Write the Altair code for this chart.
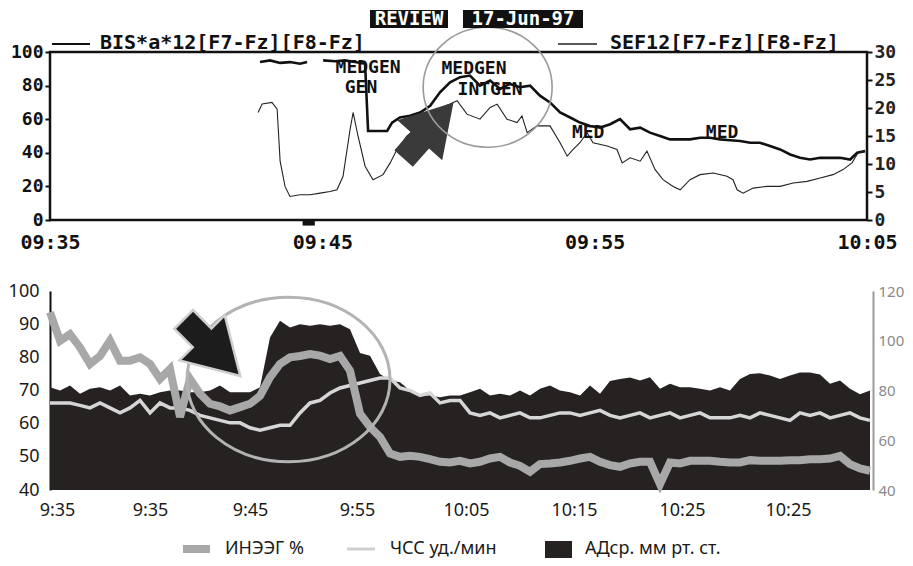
import altair as alt
import pandas as pd

# ================= top panel: monitor screen =================
top_title = ["REVIEW", "17-Jun-97"]
top_series = ["BIS*a*12[F7-Fz][F8-Fz]", "SEF12[F7-Fz][F8-Fz]"]
top_tick_min = [0, 10, 20, 30]            # minutes after 09:35
top_tick_lab = ["09:35", "09:45", "09:55", "10:05"]

bis_min = [7.71, 8.08, 8.45, 8.81, 9.18, 9.44,
           10.03, 10.47, 10.83, 11.20, 11.57, 11.68, 12.05, 12.38, 12.56, 12.85,
           13.22, 13.59, 13.96, 14.32, 14.69, 15.06, 15.42, 15.79, 16.16, 16.53,
           16.89, 17.26, 17.63, 17.99, 18.36, 18.73, 19.10, 19.46, 19.83, 20.20,
           20.57, 20.93, 21.30, 21.67, 22.03, 22.40, 22.77, 23.14, 23.50, 23.87,
           24.24, 24.61, 24.97, 25.34, 25.71, 26.07, 26.44, 26.81, 27.18, 27.54,
           27.91, 28.28, 28.64, 29.01, 29.38, 29.64, 29.93]
bis_val = [94, 95, 93.5, 94, 93, 94,
           95, 94.5, 95, 94, 93, 53, 53, 53, 58, 61,
           62, 64, 68, 76, 82, 85, 86, 80, 83, 78,
           81, 79, 80, 74, 70, 64, 61, 58, 56, 55,
           57, 60, 54, 55, 52, 50, 48, 48, 48, 49,
           49, 48, 47.5, 47, 46, 46, 44, 42, 39, 37,
           36, 37, 37, 37, 36, 40, 41]

sef_min = [7.64, 7.79, 8.15, 8.34, 8.45, 8.63, 8.81, 9.18, 9.55, 9.92,
           10.28, 10.54, 10.76, 11.02, 11.13, 11.31, 11.57, 11.86, 12.23, 12.49,
           12.74, 13.11, 13.48, 13.70, 14.21, 14.69, 14.95, 15.31, 15.79, 16.16,
           16.42, 16.78, 17.15, 17.33, 17.52, 17.88, 18.36, 18.73, 18.99, 19.21,
           19.46, 19.72, 19.94, 20.46, 20.82, 21.01, 21.30, 21.67, 21.92, 22.22,
           22.51, 22.88, 23.14, 23.50, 23.87, 24.35, 24.86, 25.08, 25.23, 25.45,
           25.82, 26.33, 26.81, 27.29, 27.80, 28.28, 28.75, 29.12, 29.45, 29.67,
           29.93]
sef_hz = [19.2, 20.7, 21.0, 19.8, 10.5, 6.0, 4.2, 4.5, 4.5, 4.8,
          5.1, 5.4, 7.8, 16.2, 19.2, 15.0, 9.6, 7.2, 8.1, 10.2,
          12.6, 15.0, 16.5, 17.7, 19.8, 20.7, 21.3, 18.9, 18.0, 20.1,
          20.7, 18.0, 17.4, 18.6, 15.6, 16.8, 16.8, 13.8, 11.4, 12.6,
          13.8, 15.6, 13.8, 13.2, 12.6, 10.2, 11.1, 10.5, 12.3, 9.0,
          7.2, 6.0, 5.4, 7.2, 8.1, 8.4, 7.8, 7.2, 5.4, 4.8,
          5.7, 6.0, 6.0, 6.6, 6.9, 7.5, 8.1, 9.0, 10.2, 12.0,
          12.3]

event_lab = ["MEDGEN", "GEN", "MEDGEN", "INTGEN", "MED", "MED"]
event_min = [11.68, 11.42, 15.57, 16.16, 19.76, 24.68]
event_val = [90.4, 78.4, 89.8, 77.6, 51.5, 51.5]

top_marker_min = [9.5]
top_circle = {"t": [16.07], "v": [79]}
top_arrow = {"t": [13.9], "v": [53.3]}

# ================= bottom panel =================
bot_tick_pos = [0.7, 10, 20, 30.7, 41.6, 52.4, 63.2, 73.8]   # sample index
bot_tick_lab = ["9:35", "9:35", "9:45", "9:55", "10:05", "10:15", "10:25", "10:25"]
bot_series = ["ИНЭЭГ %", "ЧСС уд./мин", "АДср. мм рт. ст."]

eeg = [93.6, 85, 87, 83, 78, 80.4, 85, 79, 79, 80,
       78, 73.5, 76.5, 62, 73.5, 69, 66, 65.2, 64, 65,
       66, 68.4, 74, 78, 80, 80.4, 81, 80.5, 79.5, 80.4,
       76, 63, 59, 56, 51, 50, 50.3, 50, 49.3, 48.5,
       48.3, 48.8, 48, 48.5, 49.5, 50, 48.3, 47.3, 45.5, 47.8,
       48, 48.3, 48.8, 49.5, 50, 48.5, 47.5, 47, 48, 48.5,
       48.5, 41.8, 48.3, 48, 48.8, 48.8, 48.8, 48.5, 48.3, 48.3,
       49, 48.8, 48.8, 48.8, 49, 49, 49.3, 49.3, 49.5, 50.3,
       47.8, 46.5, 45.8]
hr = [75, 75, 75, 74, 73, 75, 73, 71, 73, 76,
      71, 75, 73, 73, 72, 70, 69, 68, 67, 67,
      65, 64, 65, 66, 66, 71, 75, 76, 79, 81,
      82, 83, 84, 85, 85, 81, 80, 78, 79, 75,
      76, 76, 71, 70, 71, 69, 70, 71, 69, 69,
      70, 71, 71, 70, 71, 72, 70, 69, 70, 71,
      69, 70, 71, 69, 70, 71, 69, 69, 69, 70,
      69, 71, 70, 69, 68, 71, 70, 71, 69, 70,
      71, 69, 68]
map_ = [71, 70, 71.5, 69, 70.5, 71, 70, 71.5, 68.5, 69,
        68.5, 69.5, 70, 70, 69.5, 69.5, 70, 71.5, 69.5, 69.5,
        69.5, 71, 86, 91, 89, 90, 89.5, 90, 89.5, 90,
        88.5, 81.3, 80.5, 75, 73, 72.5, 70, 68.5, 68.5, 68,
        68.5, 68.5, 69.5, 70.5, 68.5, 69, 68.5, 70, 68.5, 70.5,
        71.5, 70, 69.5, 68.5, 71.5, 69, 72.9, 73.5, 73.9, 73,
        74, 70.5, 72, 71, 71, 70.5, 70, 71, 70, 73.5,
        75, 75.2, 74.5, 73.5, 74.5, 75.4, 75.4, 74.8, 72, 73,
        70.5, 68.9, 70]

bot_ellipse = {"i": [23.85], "v": [73.3]}
bot_arrow = {"i": [16.2], "v": [82.9]}

# ================= helpers =================
MONO = "DejaVu Sans Mono"
SANS = "Noto Sans"
ARROW = "M0,-1L0.8,0.35L0.33,0.35L0.33,1L-0.33,1L-0.33,0.35L-0.8,0.35Z"
FLAT = "M-1,-0.5L1,-0.5L1,0.5L-1,0.5Z"


def ellipse_path(e):
    k = 0.5523
    return (f"M1,0C1,{k*e:.4f} {k:.4f},{e:.4f} 0,{e:.4f}"
            f"C{-k:.4f},{e:.4f} -1,{k*e:.4f} -1,0"
            f"C-1,{-k*e:.4f} {-k:.4f},{-e:.4f} 0,{-e:.4f}"
            f"C{k:.4f},{-e:.4f} 1,{-k*e:.4f} 1,0Z")


def label_expr(pos, lab):
    return ("[" + ",".join(f"'{l}'" for l in lab) + "][indexof([" +
            ",".join(str(p) for p in pos) + "], datum.value)]")


def pix_text(txt, x, y, **kw):
    return alt.Chart(pd.DataFrame({"label": [txt]})).mark_text(**kw).encode(
        x=alt.value(x), y=alt.value(y), text="label:N")


def pix_rect(x, x2, y, y2, color):
    return alt.Chart(pd.DataFrame({"k": [0]})).mark_rect(color=color).encode(
        x=alt.value(x), x2=alt.value(x2), y=alt.value(y), y2=alt.value(y2))


def pix_rule(x, x2, y, color, w):
    return alt.Chart(pd.DataFrame({"k": [0]})).mark_rule(color=color, strokeWidth=w).encode(
        x=alt.value(x), x2=alt.value(x2), y=alt.value(y))


# ================= top chart =================
xs_top = alt.Scale(domain=[0, 30], nice=False, zero=False)
x_top = alt.X("t:Q", scale=xs_top, axis=alt.Axis(
    values=top_tick_min, labelExpr=label_expr(top_tick_min, top_tick_lab),
    ticks=False, domain=False, grid=False, labelPadding=12, labelFlush=False,
    labelFont=MONO, labelFontSize=20, labelFontWeight="bold", labelColor="#111",
    title=None))
ys_left = alt.Scale(domain=[0, 100], nice=False, zero=False)
ys_sef = alt.Scale(domain=[0, 30], nice=False, zero=False)

bis_df = pd.DataFrame({"t": bis_min, "v": bis_val})
bis_df["seg"] = (bis_df["t"] > 9.7).astype(int)
sef_df = pd.DataFrame({"t": sef_min, "sef": sef_hz})
ev_df = pd.DataFrame({"t": event_min, "v": event_val, "label": event_lab})

bis_layer = alt.Chart(bis_df).mark_line(color="#111", strokeWidth=2.6).encode(
    x=x_top,
    y=alt.Y("v:Q", scale=ys_left, axis=alt.Axis(
        orient="left", values=[0, 20, 40, 60, 80, 100], grid=False, domain=False,
        tickSize=5, tickWidth=2, tickColor="#111", labelPadding=2,
        labelFont=MONO, labelFontSize=18, labelFontWeight="bold",
        labelColor="#111", title=None)),
    detail="seg:N")

sef_layer = alt.Chart(sef_df).mark_line(color="#222", strokeWidth=1.1).encode(
    x=x_top,
    y=alt.Y("sef:Q", scale=ys_sef, axis=alt.Axis(
        orient="right", values=[0, 5, 10, 15, 20, 25, 30], grid=False, domain=False,
        tickSize=5, tickWidth=2, tickColor="#111", labelPadding=2,
        labelFont=MONO, labelFontSize=18, labelFontWeight="bold",
        labelColor="#222", title=None)))

ev_layer = alt.Chart(ev_df).mark_text(
    font=MONO, fontSize=18, fontWeight="bold", color="#111").encode(
    x=x_top, y=alt.Y("v:Q", scale=ys_left, axis=None), text="label:N")

marker_layer = alt.Chart(pd.DataFrame({"t": top_marker_min, "v": [-1.5]})).mark_point(
    shape=FLAT, filled=True, color="#111", size=150, opacity=1).encode(
    x=x_top, y=alt.Y("v:Q", scale=ys_left, axis=None))

tarrow_layer = alt.Chart(pd.DataFrame(top_arrow)).mark_point(
    shape=ARROW, filled=True, color="#3a3a3a", size=5625, angle=41.7, opacity=1).encode(
    x=x_top, y=alt.Y("v:Q", scale=ys_left, axis=None))

tcircle_layer = alt.Chart(pd.DataFrame(top_circle)).mark_point(
    shape=ellipse_path(0.93), filled=False, color="#9a9a9a", size=16641,
    strokeWidth=1.6, opacity=1).encode(
    x=x_top, y=alt.Y("v:Q", scale=ys_left, axis=None))

top = alt.layer(
    bis_layer, sef_layer, ev_layer, marker_layer, tarrow_layer, tcircle_layer,
    pix_rect(320, 398, -42, -24, "#111"),
    pix_text(top_title[0], 359, -33, font=MONO, fontSize=19, fontWeight="bold",
             color="white", align="center", baseline="middle"),
    pix_rect(413, 533, -42, -24, "#111"),
    pix_text(top_title[1], 473, -33, font=MONO, fontSize=19, fontWeight="bold",
             color="white", align="center", baseline="middle"),
    pix_rule(2, 40, -8, "#111", 2),
    pix_text(top_series[0], 50, -9, font=MONO, fontSize=20, fontWeight="bold",
             color="#111", align="left", baseline="middle"),
    pix_rule(508, 547, -8, "#222", 1.4),
    pix_text(top_series[1], 560, -9, font=MONO, fontSize=20, fontWeight="bold",
             color="#111", align="left", baseline="middle"),
).resolve_scale(y="independent").properties(
    width=817, height=168,
    view=alt.ViewBackground(stroke="#111", strokeWidth=2.5))

# ================= bottom chart =================
n = len(map_)
bot_df = pd.DataFrame({"i": list(range(n)), "map": map_, "eeg": eeg, "hr": hr})

xs_bot = alt.Scale(domain=[0, 82.3], nice=False, zero=False)
x_bot = alt.X("i:Q", scale=xs_bot, axis=alt.Axis(
    values=bot_tick_pos, labelExpr=label_expr(bot_tick_pos, bot_tick_lab),
    ticks=False, domain=False, grid=False, labelPadding=11, labelFlush=False,
    labelOverlap=False, labelFont=SANS, labelFontSize=18, labelColor="#1a1a1a",
    title=None))
ys_bot = alt.Scale(domain=[40, 100], nice=False, zero=False)
ys_hr = alt.Scale(domain=[40, 120], nice=False, zero=False)

area_layer = alt.Chart(bot_df).mark_area(color="#272222", opacity=1).encode(
    x=x_bot,
    y=alt.Y("map:Q", scale=ys_bot, axis=alt.Axis(
        orient="left", values=[40, 50, 60, 70, 80, 90, 100], grid=False,
        ticks=False, domain=True, domainColor="#111", domainWidth=2,
        labelPadding=11, labelFont=SANS, labelFontSize=18, labelColor="#1a1a1a",
        title=None)),
    y2=alt.datum(40))

hr_layer = alt.Chart(bot_df).mark_line(color="#d6d6d6", strokeWidth=3.5).encode(
    x=x_bot,
    y=alt.Y("hr:Q", scale=ys_hr, axis=alt.Axis(
        orient="right", values=[40, 60, 80, 100, 120], grid=False, ticks=False,
        domain=True, domainColor="#9a9a9a", domainWidth=2, labelPadding=5,
        labelFont=SANS, labelFontSize=15, labelColor="#8a8a8a", title=None)))

eeg_layer = alt.Chart(bot_df).mark_line(
    color="#a8a8a8", strokeWidth=8, strokeMiterLimit=4).encode(
    x=x_bot, y=alt.Y("eeg:Q", scale=ys_bot, axis=None))

bell_layer = alt.Chart(pd.DataFrame(bot_ellipse)).mark_point(
    shape=ellipse_path(0.81), filled=False, color="#b3b3b3", size=41209,
    strokeWidth=3, opacity=1).encode(
    x=x_bot, y=alt.Y("v:Q", scale=ys_bot, axis=None))

barrow_layer = alt.Chart(pd.DataFrame(bot_arrow)).mark_point(
    shape=ARROW, filled=True, fill="#1c1c1c", stroke="#cfcfcf", strokeWidth=2.5,
    size=6400, angle=135, opacity=1).encode(
    x=x_bot, y=alt.Y("v:Q", scale=ys_bot, axis=None))

LY = 258
bottom = alt.layer(
    area_layer, hr_layer, eeg_layer, bell_layer, barrow_layer,
    pix_rect(133, 160, LY - 4, LY + 4, "#a8a8a8"),
    pix_text(bot_series[0], 175, LY, font=SANS, fontSize=18, color="#1a1a1a",
             align="left", baseline="middle"),
    pix_rect(297, 325, LY - 1.5, LY + 1.5, "#cfcfcf"),
    pix_text(bot_series[1], 340, LY, font=SANS, fontSize=18, color="#1a1a1a",
             align="left", baseline="middle"),
    pix_rect(495, 522, LY - 8, LY + 9, "#272222"),
    pix_text(bot_series[2], 535, LY, font=SANS, fontSize=18, color="#1a1a1a",
             align="left", baseline="middle"),
).resolve_scale(y="independent").properties(width=823, height=199)

chart = alt.vconcat(top, bottom, spacing=28).properties(
    padding={"left": 0, "top": 0, "right": 0, "bottom": 0},
    background="white",
).configure_view(stroke=None)

chart.save("out.html", embed_options={"renderer": "svg", "actions": False})
